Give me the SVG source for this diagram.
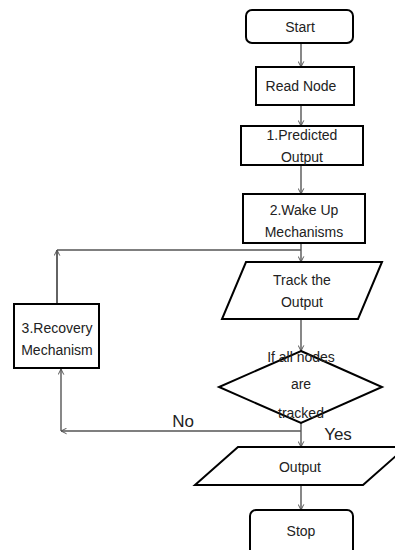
<svg xmlns="http://www.w3.org/2000/svg" width="395" height="550" viewBox="0 0 395 550">
<defs>
<marker id="arr" viewBox="0 0 10 10" refX="9" refY="5" markerWidth="7" markerHeight="7" orient="auto" markerUnits="userSpaceOnUse">
<polyline points="1,1 9,5 1,9" fill="none" stroke="#555" stroke-width="1.4"/>
</marker>
<style>
.n{fill:#fff;stroke:#000;stroke-width:2}
.t{font-family:"Liberation Sans",Arial,sans-serif;font-size:14px;fill:#222;text-anchor:middle}
.l{font-family:"Liberation Sans",Arial,sans-serif;font-size:17px;fill:#222;text-anchor:middle}
.c{fill:none;stroke:#555;stroke-width:1.4}
</style>
</defs>
<rect width="395" height="550" fill="#fff"/>
<g id="connectors">
<line class="c" x1="301" y1="43" x2="301" y2="67" marker-end="url(#arr)"/>
<line class="c" x1="301" y1="105" x2="301" y2="126" marker-end="url(#arr)"/>
<line class="c" x1="301" y1="165" x2="301" y2="194" marker-end="url(#arr)"/>
<line class="c" x1="301" y1="243" x2="301" y2="262" marker-end="url(#arr)"/>
<line class="c" x1="301" y1="319" x2="301" y2="351" marker-end="url(#arr)"/>
<line class="c" x1="301" y1="423" x2="301" y2="447" marker-end="url(#arr)"/>
<line class="c" x1="301" y1="485" x2="301" y2="510" marker-end="url(#arr)"/>
<line class="c" x1="301" y1="431" x2="61" y2="431" marker-end="url(#arr)"/>
<line class="c" x1="61" y1="431" x2="61" y2="369" marker-end="url(#arr)"/>
<line class="c" style="stroke:#222" x1="57" y1="304" x2="57" y2="250" marker-end="url(#arr)"/>
<line class="c" x1="57" y1="250" x2="301" y2="250"/>
<text class="l" x="183" y="427">No</text>
<text class="l" x="338" y="440">Yes</text>
</g>
<g id="start">
<rect class="n" x="246" y="10" width="107" height="33" rx="6"/>
<text class="t" x="300" y="32">Start</text>
</g>
<g id="read-node">
<rect class="n" x="256" y="67" width="98" height="38"/>
<text class="t" x="301" y="91">Read Node</text>
</g>
<g id="predicted-output">
<rect class="n" x="241" y="126" width="122" height="39"/>
<text class="t" x="302" y="140">1.Predicted</text>
<text class="t" x="302" y="162">Output</text>
</g>
<g id="wake-up">
<rect class="n" x="243" y="194" width="122" height="49"/>
<text class="t" x="304" y="215">2.Wake Up</text>
<text class="t" x="304" y="237">Mechanisms</text>
</g>
<g id="track-output">
<polygon class="n" points="246,262 382,262 358,319 222,319"/>
<text class="t" x="302" y="285">Track the</text>
<text class="t" x="302" y="307">Output</text>
</g>
<g id="recovery">
<rect class="n" x="14" y="304" width="85" height="64"/>
<text class="t" x="57" y="333">3.Recovery</text>
<text class="t" x="57" y="355">Mechanism</text>
</g>
<g id="decision">
<polygon class="n" points="301,351 382,387 301,423 219,387"/>
<text class="t" x="301" y="362">If all nodes</text>
<text class="t" x="301" y="389">are</text>
<text class="t" x="301" y="418">tracked</text>
</g>
<g id="output">
<polygon class="n" points="238,447 406,447 363,485 195,485"/>
<text class="t" x="300" y="472">Output</text>
</g>
<g id="stop">
<rect class="n" x="250" y="510" width="103" height="50" rx="6"/>
<text class="t" x="301" y="536">Stop</text>
</g>
</svg>
